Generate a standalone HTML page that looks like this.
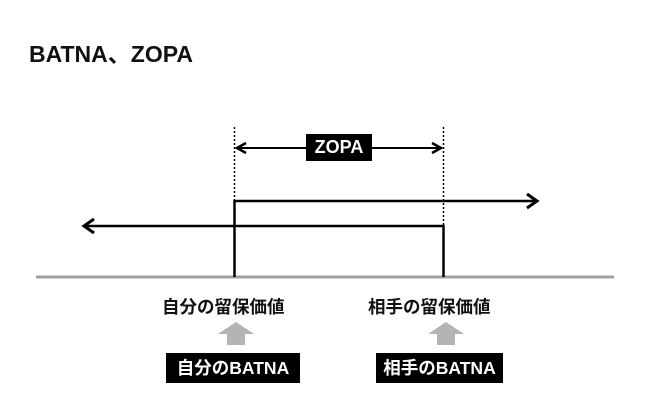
<!DOCTYPE html>
<html><head><meta charset="utf-8"><style>
html,body{margin:0;padding:0;background:#fff;width:650px;height:407px;overflow:hidden}
body{position:relative;font-family:"Liberation Sans","Noto Sans CJK JP",sans-serif;font-weight:bold}
.t{position:absolute;white-space:nowrap}
</style></head><body>
<div class="t" style="left:29px;top:35px;font-size:23px;color:#111">BATNA、ZOPA</div>
<svg width="650" height="407" style="position:absolute;left:0;top:0">
<line x1="234.5" y1="127" x2="234.5" y2="201" stroke="#000" stroke-width="1.5" stroke-dasharray="2,2"/>
<line x1="443.5" y1="127" x2="443.5" y2="226" stroke="#000" stroke-width="1.5" stroke-dasharray="2,2"/>
<line x1="240" y1="148" x2="438" y2="148" stroke="#000" stroke-width="2"/>
<polyline points="246,143 237,148 246,153" fill="none" stroke="#000" stroke-width="2.5"/>
<polyline points="432,143 441,148 432,153" fill="none" stroke="#000" stroke-width="2.5"/>
<line x1="36" y1="277" x2="614" y2="277" stroke="#a0a0a0" stroke-width="3"/>
<polyline points="234.5,277 234.5,201 536,201" fill="none" stroke="#000" stroke-width="2.5"/>
<polyline points="527,194 537,201 527,208" fill="none" stroke="#000" stroke-width="3"/>
<polyline points="84,226 443.5,226 443.5,277" fill="none" stroke="#000" stroke-width="2.5"/>
<polyline points="94,219 84,226 94,233" fill="none" stroke="#000" stroke-width="3"/>
<polygon points="236,322 254,334 245,334 245,345 227,345 227,334 218,334" fill="#b4b4b4"/>
<polygon points="446,322 464,334 455,334 455,345 437,345 437,334 428,334" fill="#b4b4b4"/>
</svg>
<div class="t" style="left:306px;top:134px;width:66px;height:27px;background:#000;color:#fff;font-size:18px;line-height:27px;text-align:center">ZOPA</div>
<div class="t" style="left:162px;top:294px;font-size:17.5px;color:#111">自分の留保価値</div>
<div class="t" style="left:368px;top:294px;font-size:17.5px;color:#111">相手の留保価値</div>
<div class="t" style="left:166px;top:353px;width:134px;height:30px;background:#000;color:#fff;font-size:17.5px;line-height:30px;text-align:center">自分のBATNA</div>
<div class="t" style="left:376px;top:353px;width:127px;height:30px;background:#000;color:#fff;font-size:17.5px;line-height:30px;text-align:center">相手のBATNA</div>
</body></html>
